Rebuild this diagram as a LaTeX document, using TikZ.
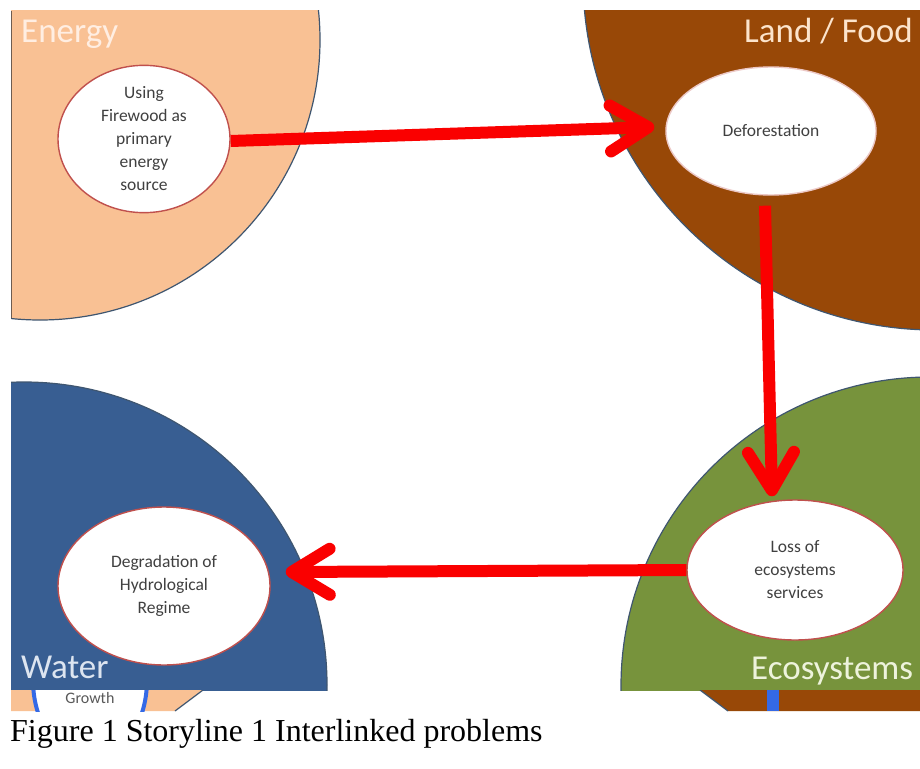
\documentclass[tikz,border=0pt]{standalone}
\usepackage{fontspec}
\setmainfont{Carlito}
\newfontfamily\capfont{Liberation Serif}
\usetikzlibrary{shapes.geometric,arrows.meta}

\definecolor{peach}{HTML}{F9C194}
\definecolor{landbrown}{HTML}{984807}
\definecolor{waterblue}{HTML}{385E92}
\definecolor{ecogreen}{HTML}{77933C}
\definecolor{rim}{HTML}{3F5670}
\definecolor{ovalrim}{HTML}{C0504D}
\definecolor{ovaltext}{HTML}{404040}
\definecolor{flowred}{HTML}{FA0000}
\definecolor{ringblue}{HTML}{3469E6}

\tikzset{
  zone/.style={draw=rim, line width=1.2pt},
  zonelabel/.style={inner sep=0pt, anchor=base west, font=\fontsize{35}{40}\selectfont},
  problem/.style={ellipse, draw=ovalrim, line width=1.4pt, fill=white, inner sep=0pt,
    align=center, text=ovaltext, font=\fontsize{17.5}{23}\selectfont},
  flow/.style={draw=flowred, line width=12pt,
    -{Straight Barb[length=38pt,width=46pt,round]}},
}

\begin{document}
\begin{tikzpicture}[x=1pt,y=-1pt]
\useasboundingbox (0,0) rectangle (920,768);
\fill[white] (0,0) rectangle (920,768);

% the four sector discs, cut by the slide frame
\begin{scope}
  \clip (11,11) rectangle (920,690);
  \fill[white] (11,11) rectangle (920,690);
  \filldraw[zone, fill=peach] (40,40) circle[radius=280pt];
  \filldraw[zone, fill=landbrown] (935,-22) circle[radius=352pt];
  \filldraw[zone, fill=waterblue] (24,685) circle[radius=303pt];
  \filldraw[zone, fill=ecogreen] (930,686) circle[radius=309pt];
\end{scope}
\draw[line width=1.5pt, draw={rgb,255:red,110;green,92;blue,80}] (11.5,11) -- (11.5,318);

% strip of the slide underneath
\begin{scope}
  \clip (11,690) rectangle (920,711);
  \fill[peach] (11,690) -- (203,690) -- (175,711) -- (11,711) -- cycle;
  \draw[rim, line width=1.2pt] (203,690) -- (175,711);
  \filldraw[draw=ringblue, line width=4pt, fill=white] (90,680) ellipse[x radius=57pt, y radius=80pt];
  \node[inner sep=0pt, text={rgb,255:red,89;green,89;blue,89}, font=\fontsize{16}{18}\selectfont] (growth) at (90,698) {Growth};
  \fill[landbrown] (700,690) -- (920,690) -- (920,711) -- (728,711) -- cycle;
  \draw[rim, line width=1.2pt] (700,690) -- (728,711);
  \fill[ringblue] (767,690) rectangle (779,711);
\end{scope}

% sector names
\node[zonelabel, text={rgb,255:red,255;green,238;blue,226}] (lenergy) at (21,42) {Energy};
\node[zonelabel, text={rgb,255:red,252;green,228;blue,204}] (lland) at (744,43) {Land / Food};
\node[zonelabel, text={rgb,255:red,221;green,229;blue,240}] (lwater) at (21,678) {Water};
\node[zonelabel, text={rgb,255:red,238;green,243;blue,220}] (leco) at (751,679) {Ecosystems};

% problems
\node[problem, minimum width=172pt, minimum height=132pt] (fw) at (144,139)
  {Using\\Firewood as\\primary\\energy\\source};
\node[problem, draw={rgb,255:red,236;green,200;blue,198}, minimum width=210pt, minimum height=128pt] (def) at (771,131)
  {Deforestation};
\node[problem, minimum width=216pt, minimum height=140pt] (loss) at (795,570)
  {Loss of\\ecosystems\\services};
\node[problem, minimum width=212pt, minimum height=158pt] (deg) at (164,586)
  {Degradation of\\Hydrological\\Regime};

% causal chain
\draw[flow] ([yshift=-2pt]fw.east) -- ([shift={(-11,-4)}]def.west);
\draw[flow] ([shift={(-6,10)}]def.south) -- ([shift={(-23,-3)}]loss.north);
\draw[flow] (loss.west) -- ([shift={(15,-14)}]deg.east);

% caption
\node[inner sep=0pt, anchor=base west, font=\capfont\fontsize{32}{38}\selectfont] (caption) at (10,741)
  {Figure 1 Storyline 1 Interlinked problems};
\end{tikzpicture}
\end{document}
